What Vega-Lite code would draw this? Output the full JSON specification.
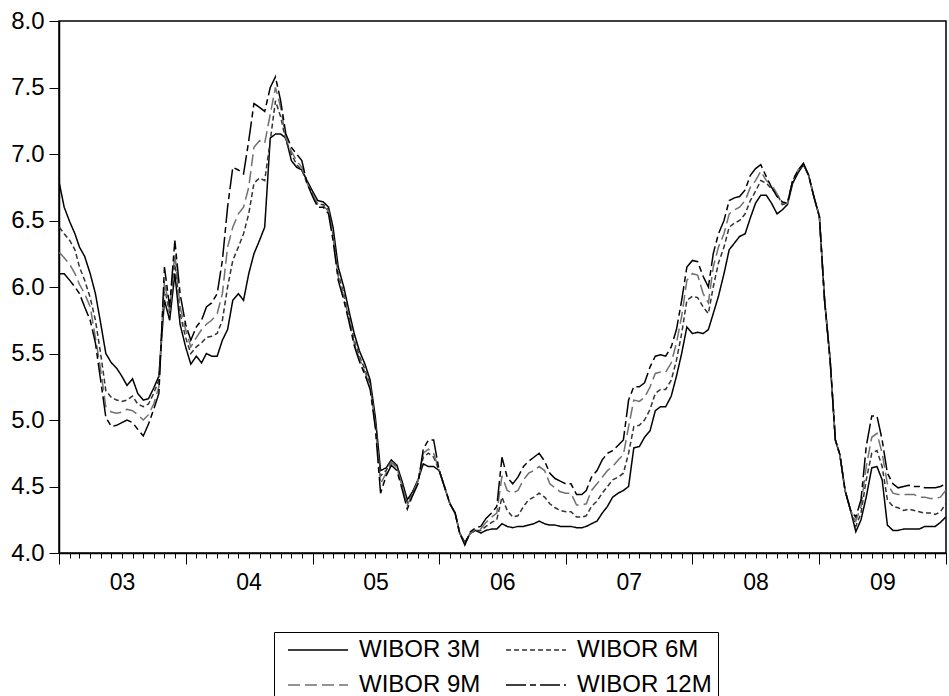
{
"$schema":"https://vega.github.io/schema/vega-lite/v6.json",
"width":887,"height":532,
"autosize":"none",
"padding":{"left":59,"top":21,"right":3,"bottom":143},
"background":"white",
"config":{"view":{"stroke":"black","strokeWidth":1.5},"font":"Liberation Sans",
 "legend":{"symbolType":"M-0.4,0H5.6","symbolSize":400,"symbolStrokeWidth":1.5,"direction":"horizontal","columns":2,
  "labelFontSize":24,"labelColor":"black","labelFont":"Liberation Sans","strokeColor":"black","fillColor":"white","padding":6,"columnPadding":17,"rowPadding":11,"labelOffset":55,"symbolFillColor":"transparent"}},
"data":{"values":[
{"d":"2003-01-02","WIBOR 3M":6.78,"WIBOR 6M":6.45,"WIBOR 9M":6.26,"WIBOR 12M":6.10},
{"d":"2003-01-16","WIBOR 3M":6.60,"WIBOR 6M":6.40,"WIBOR 9M":6.22,"WIBOR 12M":6.10},
{"d":"2003-02-01","WIBOR 3M":6.49,"WIBOR 6M":6.35,"WIBOR 9M":6.17,"WIBOR 12M":6.05},
{"d":"2003-02-16","WIBOR 3M":6.40,"WIBOR 6M":6.28,"WIBOR 9M":6.10,"WIBOR 12M":6.00},
{"d":"2003-03-01","WIBOR 3M":6.30,"WIBOR 6M":6.15,"WIBOR 9M":6.02,"WIBOR 12M":5.95},
{"d":"2003-03-16","WIBOR 3M":6.23,"WIBOR 6M":6.05,"WIBOR 9M":5.95,"WIBOR 12M":5.85},
{"d":"2003-04-01","WIBOR 3M":6.10,"WIBOR 6M":5.92,"WIBOR 9M":5.85,"WIBOR 12M":5.75},
{"d":"2003-04-16","WIBOR 3M":5.95,"WIBOR 6M":5.75,"WIBOR 9M":5.62,"WIBOR 12M":5.58},
{"d":"2003-05-01","WIBOR 3M":5.73,"WIBOR 6M":5.50,"WIBOR 9M":5.38,"WIBOR 12M":5.30},
{"d":"2003-05-16","WIBOR 3M":5.50,"WIBOR 6M":5.22,"WIBOR 9M":5.10,"WIBOR 12M":5.02},
{"d":"2003-06-01","WIBOR 3M":5.43,"WIBOR 6M":5.17,"WIBOR 9M":5.06,"WIBOR 12M":4.95},
{"d":"2003-06-16","WIBOR 3M":5.39,"WIBOR 6M":5.15,"WIBOR 9M":5.05,"WIBOR 12M":4.96},
{"d":"2003-07-01","WIBOR 3M":5.33,"WIBOR 6M":5.14,"WIBOR 9M":5.06,"WIBOR 12M":4.98},
{"d":"2003-07-16","WIBOR 3M":5.26,"WIBOR 6M":5.15,"WIBOR 9M":5.08,"WIBOR 12M":5.00},
{"d":"2003-08-01","WIBOR 3M":5.31,"WIBOR 6M":5.18,"WIBOR 9M":5.07,"WIBOR 12M":4.98},
{"d":"2003-08-16","WIBOR 3M":5.20,"WIBOR 6M":5.12,"WIBOR 9M":5.04,"WIBOR 12M":4.93},
{"d":"2003-09-01","WIBOR 3M":5.15,"WIBOR 6M":5.10,"WIBOR 9M":5.00,"WIBOR 12M":4.88},
{"d":"2003-09-16","WIBOR 3M":5.16,"WIBOR 6M":5.12,"WIBOR 9M":5.04,"WIBOR 12M":4.97},
{"d":"2003-10-01","WIBOR 3M":5.24,"WIBOR 6M":5.20,"WIBOR 9M":5.12,"WIBOR 12M":5.08},
{"d":"2003-10-16","WIBOR 3M":5.33,"WIBOR 6M":5.30,"WIBOR 9M":5.25,"WIBOR 12M":5.20},
{"d":"2003-11-01","WIBOR 3M":5.90,"WIBOR 6M":6.00,"WIBOR 9M":6.05,"WIBOR 12M":6.15},
{"d":"2003-11-16","WIBOR 3M":5.75,"WIBOR 6M":5.80,"WIBOR 9M":5.82,"WIBOR 12M":5.85},
{"d":"2003-12-01","WIBOR 3M":6.10,"WIBOR 6M":6.20,"WIBOR 9M":6.25,"WIBOR 12M":6.35},
{"d":"2003-12-16","WIBOR 3M":5.72,"WIBOR 6M":5.80,"WIBOR 9M":5.85,"WIBOR 12M":5.95},
{"d":"2004-01-01","WIBOR 3M":5.55,"WIBOR 6M":5.62,"WIBOR 9M":5.68,"WIBOR 12M":5.72},
{"d":"2004-01-16","WIBOR 3M":5.42,"WIBOR 6M":5.50,"WIBOR 9M":5.55,"WIBOR 12M":5.60},
{"d":"2004-02-01","WIBOR 3M":5.48,"WIBOR 6M":5.55,"WIBOR 9M":5.62,"WIBOR 12M":5.70},
{"d":"2004-02-16","WIBOR 3M":5.43,"WIBOR 6M":5.58,"WIBOR 9M":5.68,"WIBOR 12M":5.75},
{"d":"2004-03-01","WIBOR 3M":5.50,"WIBOR 6M":5.62,"WIBOR 9M":5.72,"WIBOR 12M":5.85},
{"d":"2004-03-16","WIBOR 3M":5.48,"WIBOR 6M":5.63,"WIBOR 9M":5.75,"WIBOR 12M":5.88},
{"d":"2004-04-01","WIBOR 3M":5.48,"WIBOR 6M":5.65,"WIBOR 9M":5.80,"WIBOR 12M":5.95},
{"d":"2004-04-16","WIBOR 3M":5.60,"WIBOR 6M":5.75,"WIBOR 9M":5.95,"WIBOR 12M":6.20},
{"d":"2004-05-01","WIBOR 3M":5.68,"WIBOR 6M":6.00,"WIBOR 9M":6.30,"WIBOR 12M":6.60},
{"d":"2004-05-16","WIBOR 3M":5.90,"WIBOR 6M":6.20,"WIBOR 9M":6.45,"WIBOR 12M":6.90},
{"d":"2004-06-01","WIBOR 3M":5.95,"WIBOR 6M":6.30,"WIBOR 9M":6.55,"WIBOR 12M":6.88},
{"d":"2004-06-16","WIBOR 3M":5.90,"WIBOR 6M":6.40,"WIBOR 9M":6.60,"WIBOR 12M":6.85},
{"d":"2004-07-01","WIBOR 3M":6.10,"WIBOR 6M":6.55,"WIBOR 9M":6.75,"WIBOR 12M":7.10},
{"d":"2004-07-16","WIBOR 3M":6.25,"WIBOR 6M":6.78,"WIBOR 9M":7.05,"WIBOR 12M":7.38},
{"d":"2004-08-01","WIBOR 3M":6.35,"WIBOR 6M":6.82,"WIBOR 9M":7.10,"WIBOR 12M":7.35},
{"d":"2004-08-16","WIBOR 3M":6.45,"WIBOR 6M":6.80,"WIBOR 9M":7.08,"WIBOR 12M":7.32},
{"d":"2004-09-01","WIBOR 3M":7.12,"WIBOR 6M":7.10,"WIBOR 9M":7.30,"WIBOR 12M":7.50},
{"d":"2004-09-16","WIBOR 3M":7.15,"WIBOR 6M":7.40,"WIBOR 9M":7.50,"WIBOR 12M":7.58},
{"d":"2004-10-01","WIBOR 3M":7.15,"WIBOR 6M":7.28,"WIBOR 9M":7.35,"WIBOR 12M":7.40},
{"d":"2004-10-16","WIBOR 3M":7.12,"WIBOR 6M":7.10,"WIBOR 9M":7.12,"WIBOR 12M":7.15},
{"d":"2004-11-01","WIBOR 3M":6.95,"WIBOR 6M":7.00,"WIBOR 9M":7.02,"WIBOR 12M":7.05},
{"d":"2004-11-16","WIBOR 3M":6.90,"WIBOR 6M":6.92,"WIBOR 9M":6.95,"WIBOR 12M":7.00},
{"d":"2004-12-01","WIBOR 3M":6.88,"WIBOR 6M":6.88,"WIBOR 9M":6.90,"WIBOR 12M":6.95},
{"d":"2004-12-16","WIBOR 3M":6.80,"WIBOR 6M":6.78,"WIBOR 9M":6.78,"WIBOR 12M":6.78},
{"d":"2005-01-01","WIBOR 3M":6.72,"WIBOR 6M":6.70,"WIBOR 9M":6.70,"WIBOR 12M":6.68},
{"d":"2005-01-16","WIBOR 3M":6.65,"WIBOR 6M":6.62,"WIBOR 9M":6.62,"WIBOR 12M":6.60},
{"d":"2005-02-01","WIBOR 3M":6.64,"WIBOR 6M":6.62,"WIBOR 9M":6.61,"WIBOR 12M":6.60},
{"d":"2005-02-16","WIBOR 3M":6.60,"WIBOR 6M":6.58,"WIBOR 9M":6.57,"WIBOR 12M":6.55},
{"d":"2005-03-01","WIBOR 3M":6.45,"WIBOR 6M":6.40,"WIBOR 9M":6.38,"WIBOR 12M":6.35},
{"d":"2005-03-16","WIBOR 3M":6.15,"WIBOR 6M":6.10,"WIBOR 9M":6.08,"WIBOR 12M":6.05},
{"d":"2005-04-01","WIBOR 3M":6.00,"WIBOR 6M":5.95,"WIBOR 9M":5.93,"WIBOR 12M":5.90},
{"d":"2005-04-16","WIBOR 3M":5.82,"WIBOR 6M":5.78,"WIBOR 9M":5.76,"WIBOR 12M":5.74},
{"d":"2005-05-01","WIBOR 3M":5.65,"WIBOR 6M":5.60,"WIBOR 9M":5.58,"WIBOR 12M":5.56},
{"d":"2005-05-16","WIBOR 3M":5.52,"WIBOR 6M":5.48,"WIBOR 9M":5.46,"WIBOR 12M":5.44},
{"d":"2005-06-01","WIBOR 3M":5.42,"WIBOR 6M":5.38,"WIBOR 9M":5.36,"WIBOR 12M":5.34},
{"d":"2005-06-16","WIBOR 3M":5.30,"WIBOR 6M":5.27,"WIBOR 9M":5.25,"WIBOR 12M":5.23},
{"d":"2005-07-01","WIBOR 3M":5.02,"WIBOR 6M":4.98,"WIBOR 9M":4.96,"WIBOR 12M":4.94},
{"d":"2005-07-16","WIBOR 3M":4.62,"WIBOR 6M":4.58,"WIBOR 9M":4.52,"WIBOR 12M":4.45},
{"d":"2005-08-01","WIBOR 3M":4.64,"WIBOR 6M":4.62,"WIBOR 9M":4.60,"WIBOR 12M":4.58},
{"d":"2005-08-16","WIBOR 3M":4.70,"WIBOR 6M":4.70,"WIBOR 9M":4.68,"WIBOR 12M":4.66},
{"d":"2005-09-01","WIBOR 3M":4.66,"WIBOR 6M":4.65,"WIBOR 9M":4.64,"WIBOR 12M":4.62},
{"d":"2005-09-16","WIBOR 3M":4.54,"WIBOR 6M":4.52,"WIBOR 9M":4.50,"WIBOR 12M":4.48},
{"d":"2005-10-01","WIBOR 3M":4.40,"WIBOR 6M":4.38,"WIBOR 9M":4.36,"WIBOR 12M":4.33},
{"d":"2005-10-16","WIBOR 3M":4.46,"WIBOR 6M":4.45,"WIBOR 9M":4.44,"WIBOR 12M":4.43},
{"d":"2005-11-01","WIBOR 3M":4.55,"WIBOR 6M":4.55,"WIBOR 9M":4.54,"WIBOR 12M":4.52},
{"d":"2005-11-16","WIBOR 3M":4.67,"WIBOR 6M":4.72,"WIBOR 9M":4.75,"WIBOR 12M":4.78},
{"d":"2005-12-01","WIBOR 3M":4.65,"WIBOR 6M":4.75,"WIBOR 9M":4.78,"WIBOR 12M":4.85},
{"d":"2005-12-16","WIBOR 3M":4.65,"WIBOR 6M":4.72,"WIBOR 9M":4.75,"WIBOR 12M":4.85},
{"d":"2006-01-01","WIBOR 3M":4.62,"WIBOR 6M":4.62,"WIBOR 9M":4.62,"WIBOR 12M":4.62},
{"d":"2006-01-16","WIBOR 3M":4.50,"WIBOR 6M":4.50,"WIBOR 9M":4.50,"WIBOR 12M":4.50},
{"d":"2006-02-01","WIBOR 3M":4.37,"WIBOR 6M":4.37,"WIBOR 9M":4.37,"WIBOR 12M":4.37},
{"d":"2006-02-16","WIBOR 3M":4.30,"WIBOR 6M":4.30,"WIBOR 9M":4.30,"WIBOR 12M":4.30},
{"d":"2006-03-01","WIBOR 3M":4.15,"WIBOR 6M":4.15,"WIBOR 9M":4.15,"WIBOR 12M":4.15},
{"d":"2006-03-16","WIBOR 3M":4.08,"WIBOR 6M":4.07,"WIBOR 9M":4.07,"WIBOR 12M":4.06},
{"d":"2006-04-01","WIBOR 3M":4.15,"WIBOR 6M":4.15,"WIBOR 9M":4.15,"WIBOR 12M":4.16},
{"d":"2006-04-16","WIBOR 3M":4.17,"WIBOR 6M":4.17,"WIBOR 9M":4.18,"WIBOR 12M":4.19},
{"d":"2006-05-01","WIBOR 3M":4.15,"WIBOR 6M":4.17,"WIBOR 9M":4.18,"WIBOR 12M":4.20},
{"d":"2006-05-16","WIBOR 3M":4.17,"WIBOR 6M":4.20,"WIBOR 9M":4.23,"WIBOR 12M":4.26},
{"d":"2006-06-01","WIBOR 3M":4.18,"WIBOR 6M":4.23,"WIBOR 9M":4.27,"WIBOR 12M":4.30},
{"d":"2006-06-16","WIBOR 3M":4.18,"WIBOR 6M":4.25,"WIBOR 9M":4.30,"WIBOR 12M":4.35},
{"d":"2006-07-01","WIBOR 3M":4.22,"WIBOR 6M":4.42,"WIBOR 9M":4.58,"WIBOR 12M":4.72},
{"d":"2006-07-16","WIBOR 3M":4.20,"WIBOR 6M":4.32,"WIBOR 9M":4.47,"WIBOR 12M":4.57},
{"d":"2006-08-01","WIBOR 3M":4.19,"WIBOR 6M":4.27,"WIBOR 9M":4.45,"WIBOR 12M":4.52},
{"d":"2006-08-16","WIBOR 3M":4.20,"WIBOR 6M":4.28,"WIBOR 9M":4.47,"WIBOR 12M":4.57},
{"d":"2006-09-01","WIBOR 3M":4.20,"WIBOR 6M":4.35,"WIBOR 9M":4.55,"WIBOR 12M":4.65},
{"d":"2006-09-16","WIBOR 3M":4.21,"WIBOR 6M":4.40,"WIBOR 9M":4.60,"WIBOR 12M":4.69},
{"d":"2006-10-01","WIBOR 3M":4.22,"WIBOR 6M":4.42,"WIBOR 9M":4.62,"WIBOR 12M":4.72},
{"d":"2006-10-16","WIBOR 3M":4.24,"WIBOR 6M":4.45,"WIBOR 9M":4.65,"WIBOR 12M":4.75},
{"d":"2006-11-01","WIBOR 3M":4.22,"WIBOR 6M":4.42,"WIBOR 9M":4.62,"WIBOR 12M":4.69},
{"d":"2006-11-16","WIBOR 3M":4.21,"WIBOR 6M":4.37,"WIBOR 9M":4.52,"WIBOR 12M":4.60},
{"d":"2006-12-01","WIBOR 3M":4.21,"WIBOR 6M":4.34,"WIBOR 9M":4.49,"WIBOR 12M":4.56},
{"d":"2006-12-16","WIBOR 3M":4.20,"WIBOR 6M":4.32,"WIBOR 9M":4.46,"WIBOR 12M":4.54},
{"d":"2007-01-01","WIBOR 3M":4.20,"WIBOR 6M":4.31,"WIBOR 9M":4.45,"WIBOR 12M":4.52},
{"d":"2007-01-16","WIBOR 3M":4.20,"WIBOR 6M":4.31,"WIBOR 9M":4.45,"WIBOR 12M":4.52},
{"d":"2007-02-01","WIBOR 3M":4.19,"WIBOR 6M":4.27,"WIBOR 9M":4.36,"WIBOR 12M":4.44},
{"d":"2007-02-16","WIBOR 3M":4.19,"WIBOR 6M":4.27,"WIBOR 9M":4.36,"WIBOR 12M":4.44},
{"d":"2007-03-01","WIBOR 3M":4.20,"WIBOR 6M":4.28,"WIBOR 9M":4.37,"WIBOR 12M":4.47},
{"d":"2007-03-16","WIBOR 3M":4.22,"WIBOR 6M":4.35,"WIBOR 9M":4.47,"WIBOR 12M":4.57},
{"d":"2007-04-01","WIBOR 3M":4.24,"WIBOR 6M":4.39,"WIBOR 9M":4.52,"WIBOR 12M":4.62},
{"d":"2007-04-16","WIBOR 3M":4.30,"WIBOR 6M":4.45,"WIBOR 9M":4.57,"WIBOR 12M":4.70},
{"d":"2007-05-01","WIBOR 3M":4.35,"WIBOR 6M":4.50,"WIBOR 9M":4.62,"WIBOR 12M":4.75},
{"d":"2007-05-16","WIBOR 3M":4.42,"WIBOR 6M":4.55,"WIBOR 9M":4.65,"WIBOR 12M":4.77},
{"d":"2007-06-01","WIBOR 3M":4.45,"WIBOR 6M":4.57,"WIBOR 9M":4.70,"WIBOR 12M":4.81},
{"d":"2007-06-16","WIBOR 3M":4.47,"WIBOR 6M":4.60,"WIBOR 9M":4.74,"WIBOR 12M":4.85},
{"d":"2007-07-01","WIBOR 3M":4.50,"WIBOR 6M":4.75,"WIBOR 9M":4.95,"WIBOR 12M":5.15},
{"d":"2007-07-16","WIBOR 3M":4.79,"WIBOR 6M":4.95,"WIBOR 9M":5.15,"WIBOR 12M":5.25},
{"d":"2007-08-01","WIBOR 3M":4.80,"WIBOR 6M":4.96,"WIBOR 9M":5.14,"WIBOR 12M":5.25},
{"d":"2007-08-16","WIBOR 3M":4.87,"WIBOR 6M":5.00,"WIBOR 9M":5.17,"WIBOR 12M":5.28},
{"d":"2007-09-01","WIBOR 3M":4.92,"WIBOR 6M":5.08,"WIBOR 9M":5.25,"WIBOR 12M":5.40},
{"d":"2007-09-16","WIBOR 3M":5.07,"WIBOR 6M":5.20,"WIBOR 9M":5.35,"WIBOR 12M":5.48},
{"d":"2007-10-01","WIBOR 3M":5.10,"WIBOR 6M":5.23,"WIBOR 9M":5.36,"WIBOR 12M":5.49},
{"d":"2007-10-16","WIBOR 3M":5.10,"WIBOR 6M":5.23,"WIBOR 9M":5.36,"WIBOR 12M":5.48},
{"d":"2007-11-01","WIBOR 3M":5.18,"WIBOR 6M":5.30,"WIBOR 9M":5.43,"WIBOR 12M":5.55},
{"d":"2007-11-16","WIBOR 3M":5.33,"WIBOR 6M":5.45,"WIBOR 9M":5.58,"WIBOR 12M":5.68},
{"d":"2007-12-01","WIBOR 3M":5.50,"WIBOR 6M":5.65,"WIBOR 9M":5.78,"WIBOR 12M":5.90},
{"d":"2007-12-16","WIBOR 3M":5.70,"WIBOR 6M":5.90,"WIBOR 9M":6.05,"WIBOR 12M":6.15},
{"d":"2008-01-01","WIBOR 3M":5.65,"WIBOR 6M":5.93,"WIBOR 9M":6.10,"WIBOR 12M":6.20},
{"d":"2008-01-16","WIBOR 3M":5.66,"WIBOR 6M":5.92,"WIBOR 9M":6.09,"WIBOR 12M":6.19},
{"d":"2008-02-01","WIBOR 3M":5.65,"WIBOR 6M":5.85,"WIBOR 9M":5.95,"WIBOR 12M":6.08},
{"d":"2008-02-16","WIBOR 3M":5.68,"WIBOR 6M":5.80,"WIBOR 9M":5.88,"WIBOR 12M":6.00},
{"d":"2008-03-01","WIBOR 3M":5.80,"WIBOR 6M":6.00,"WIBOR 9M":6.15,"WIBOR 12M":6.25},
{"d":"2008-03-16","WIBOR 3M":5.93,"WIBOR 6M":6.18,"WIBOR 9M":6.30,"WIBOR 12M":6.40},
{"d":"2008-04-01","WIBOR 3M":6.10,"WIBOR 6M":6.30,"WIBOR 9M":6.40,"WIBOR 12M":6.50},
{"d":"2008-04-16","WIBOR 3M":6.28,"WIBOR 6M":6.45,"WIBOR 9M":6.55,"WIBOR 12M":6.65},
{"d":"2008-05-01","WIBOR 3M":6.33,"WIBOR 6M":6.48,"WIBOR 9M":6.58,"WIBOR 12M":6.67},
{"d":"2008-05-16","WIBOR 3M":6.38,"WIBOR 6M":6.50,"WIBOR 9M":6.60,"WIBOR 12M":6.68},
{"d":"2008-06-01","WIBOR 3M":6.40,"WIBOR 6M":6.55,"WIBOR 9M":6.65,"WIBOR 12M":6.73},
{"d":"2008-06-16","WIBOR 3M":6.52,"WIBOR 6M":6.65,"WIBOR 9M":6.75,"WIBOR 12M":6.84},
{"d":"2008-07-01","WIBOR 3M":6.63,"WIBOR 6M":6.72,"WIBOR 9M":6.80,"WIBOR 12M":6.89},
{"d":"2008-07-16","WIBOR 3M":6.69,"WIBOR 6M":6.80,"WIBOR 9M":6.87,"WIBOR 12M":6.92},
{"d":"2008-08-01","WIBOR 3M":6.69,"WIBOR 6M":6.78,"WIBOR 9M":6.80,"WIBOR 12M":6.83},
{"d":"2008-08-16","WIBOR 3M":6.63,"WIBOR 6M":6.74,"WIBOR 9M":6.77,"WIBOR 12M":6.75},
{"d":"2008-09-01","WIBOR 3M":6.55,"WIBOR 6M":6.70,"WIBOR 9M":6.70,"WIBOR 12M":6.68},
{"d":"2008-09-16","WIBOR 3M":6.58,"WIBOR 6M":6.62,"WIBOR 9M":6.63,"WIBOR 12M":6.64},
{"d":"2008-10-01","WIBOR 3M":6.62,"WIBOR 6M":6.63,"WIBOR 9M":6.63,"WIBOR 12M":6.63},
{"d":"2008-10-16","WIBOR 3M":6.78,"WIBOR 6M":6.80,"WIBOR 9M":6.80,"WIBOR 12M":6.80},
{"d":"2008-11-01","WIBOR 3M":6.86,"WIBOR 6M":6.88,"WIBOR 9M":6.88,"WIBOR 12M":6.88},
{"d":"2008-11-16","WIBOR 3M":6.92,"WIBOR 6M":6.92,"WIBOR 9M":6.92,"WIBOR 12M":6.93},
{"d":"2008-12-01","WIBOR 3M":6.84,"WIBOR 6M":6.84,"WIBOR 9M":6.84,"WIBOR 12M":6.84},
{"d":"2008-12-16","WIBOR 3M":6.68,"WIBOR 6M":6.68,"WIBOR 9M":6.68,"WIBOR 12M":6.68},
{"d":"2009-01-01","WIBOR 3M":6.53,"WIBOR 6M":6.53,"WIBOR 9M":6.53,"WIBOR 12M":6.53},
{"d":"2009-01-16","WIBOR 3M":5.90,"WIBOR 6M":5.90,"WIBOR 9M":5.90,"WIBOR 12M":5.90},
{"d":"2009-02-01","WIBOR 3M":5.45,"WIBOR 6M":5.45,"WIBOR 9M":5.45,"WIBOR 12M":5.45},
{"d":"2009-02-16","WIBOR 3M":4.85,"WIBOR 6M":4.85,"WIBOR 9M":4.85,"WIBOR 12M":4.85},
{"d":"2009-03-01","WIBOR 3M":4.74,"WIBOR 6M":4.74,"WIBOR 9M":4.74,"WIBOR 12M":4.74},
{"d":"2009-03-16","WIBOR 3M":4.47,"WIBOR 6M":4.47,"WIBOR 9M":4.47,"WIBOR 12M":4.47},
{"d":"2009-04-01","WIBOR 3M":4.32,"WIBOR 6M":4.32,"WIBOR 9M":4.32,"WIBOR 12M":4.32},
{"d":"2009-04-16","WIBOR 3M":4.16,"WIBOR 6M":4.20,"WIBOR 9M":4.24,"WIBOR 12M":4.27},
{"d":"2009-05-01","WIBOR 3M":4.25,"WIBOR 6M":4.30,"WIBOR 9M":4.35,"WIBOR 12M":4.40},
{"d":"2009-05-16","WIBOR 3M":4.42,"WIBOR 6M":4.55,"WIBOR 9M":4.65,"WIBOR 12M":4.80},
{"d":"2009-06-01","WIBOR 3M":4.64,"WIBOR 6M":4.75,"WIBOR 9M":4.87,"WIBOR 12M":5.03},
{"d":"2009-06-16","WIBOR 3M":4.65,"WIBOR 6M":4.77,"WIBOR 9M":4.90,"WIBOR 12M":5.03},
{"d":"2009-07-01","WIBOR 3M":4.55,"WIBOR 6M":4.65,"WIBOR 9M":4.75,"WIBOR 12M":4.85},
{"d":"2009-07-16","WIBOR 3M":4.21,"WIBOR 6M":4.40,"WIBOR 9M":4.52,"WIBOR 12M":4.60},
{"d":"2009-08-01","WIBOR 3M":4.17,"WIBOR 6M":4.35,"WIBOR 9M":4.45,"WIBOR 12M":4.52},
{"d":"2009-08-16","WIBOR 3M":4.17,"WIBOR 6M":4.34,"WIBOR 9M":4.44,"WIBOR 12M":4.49},
{"d":"2009-09-01","WIBOR 3M":4.18,"WIBOR 6M":4.32,"WIBOR 9M":4.44,"WIBOR 12M":4.50},
{"d":"2009-09-16","WIBOR 3M":4.18,"WIBOR 6M":4.33,"WIBOR 9M":4.44,"WIBOR 12M":4.51},
{"d":"2009-10-01","WIBOR 3M":4.18,"WIBOR 6M":4.32,"WIBOR 9M":4.44,"WIBOR 12M":4.50},
{"d":"2009-10-16","WIBOR 3M":4.18,"WIBOR 6M":4.31,"WIBOR 9M":4.42,"WIBOR 12M":4.50},
{"d":"2009-11-01","WIBOR 3M":4.20,"WIBOR 6M":4.30,"WIBOR 9M":4.42,"WIBOR 12M":4.49},
{"d":"2009-11-16","WIBOR 3M":4.20,"WIBOR 6M":4.30,"WIBOR 9M":4.41,"WIBOR 12M":4.49},
{"d":"2009-12-01","WIBOR 3M":4.20,"WIBOR 6M":4.29,"WIBOR 9M":4.41,"WIBOR 12M":4.49},
{"d":"2009-12-16","WIBOR 3M":4.23,"WIBOR 6M":4.31,"WIBOR 9M":4.42,"WIBOR 12M":4.50},
{"d":"2009-12-31","WIBOR 3M":4.27,"WIBOR 6M":4.37,"WIBOR 9M":4.47,"WIBOR 12M":4.52}
]},
"transform":[{"fold":["WIBOR 3M","WIBOR 6M","WIBOR 9M","WIBOR 12M"],"as":["series","v"]}],
"mark":{"type":"line","strokeWidth":1.5,"clip":true},
"encoding":{
"x":{"field":"d","type":"temporal","title":null,
 "scale":{"type":"utc","domain":[{"year":2003,"month":1,"date":1,"utc":true},{"year":2010,"month":1,"date":1,"utc":true}]},
 "axis":{"tickCount":{"interval":"month","step":1},"grid":false,"domainColor":"black","domainWidth":1.5,
  "tickColor":"black","tickWidth":1,
  "tickSize":{"condition":{"test":"utcmonth(datum.value)==0","value":11},"value":5},
  "labelExpr":"utcmonth(datum.value)==0 && utcyear(datum.value)<2010 ? utcFormat(datum.value,'%y') : ''",
  "labelOffset":63,"labelOverlap":false,"labelFlush":false,"labelFontSize":23,"labelColor":"black","labelPadding":7,"labelFont":"Liberation Sans"}},
"y":{"field":"v","type":"quantitative","title":null,
 "scale":{"domain":[4,8],"nice":false,"zero":false},
 "axis":{"values":[4,4.5,5,5.5,6,6.5,7,7.5,8],"format":".1f","grid":false,"domainColor":"black","domainWidth":1.5,
  "tickColor":"black","tickWidth":1,"tickSize":10,"labelFontSize":24,"labelColor":"black","labelPadding":5,"labelFont":"Liberation Sans"}},
"color":{"field":"series","type":"nominal","title":null,
 "scale":{"domain":["WIBOR 3M","WIBOR 6M","WIBOR 9M","WIBOR 12M"],"range":["#000000","#333333","#707070","#000000"]},
 "legend":{"orient":"none","legendX":215,"legendY":611}},
"strokeDash":{"field":"series","type":"nominal","title":null,
 "scale":{"domain":["WIBOR 3M","WIBOR 6M","WIBOR 9M","WIBOR 12M"],"range":[[1,0],[5,3],[12,5],[20,4,6,4]]},
 "legend":{"orient":"none","legendX":215,"legendY":611}}
}
}
